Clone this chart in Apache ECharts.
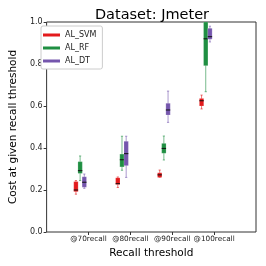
<!DOCTYPE html>
<html><head><meta charset="utf-8">
<script src="https://cdn.jsdelivr.net/npm/echarts@6/dist/echarts.min.js"></script>
<style>html,body{margin:0;padding:0;background:#fff}#c{width:266px;height:266px}</style>
</head><body><div id="c"></div>
<script>
// categories
const categories = ['@70recall', '@80recall', '@90recall', '@100recall'];
const seriesNames = ['AL_SVM', 'AL_RF', 'AL_DT'];
// [min, q1, median, q3, max] per category
const svmValues = [[0.18, 0.192, 0.20, 0.24, 0.245], [0.212, 0.226, 0.230, 0.258, 0.262], [0.26, 0.26, 0.272, 0.282, 0.295], [0.586, 0.60, 0.625, 0.636, 0.652]];
const rfValues = [[0.245, 0.279, 0.292, 0.335, 0.362], [0.294, 0.31, 0.344, 0.371, 0.456], [0.343, 0.375, 0.398, 0.422, 0.457], [0.668, 0.792, 0.92, 1.0, 1.0]];
const dtValues = [[0.208, 0.213, 0.237, 0.263, 0.276], [0.26, 0.316, 0.373, 0.432, 0.456], [0.522, 0.557, 0.581, 0.613, 0.671], [0.905, 0.918, 0.93, 0.97, 0.98]];
const yTicks = [0, 0.2, 0.4, 0.6, 0.8, 1.0];

const colors = ['#e31a1c', '#1f8f42', '#7556ad'];
const whiskerColors = ['rgba(227,26,28,0.6)', 'rgba(31,143,66,0.6)', 'rgba(117,86,173,0.6)'];
const offsets = [-0.3, -0.2, -0.1];
const allValues = [svmValues, rfValues, dtValues];

// axis categories with blank padding slots
const axisCats = [''].concat(categories, ['']);

function makeSeries(k) {
  return {
    name: seriesNames[k],
    type: 'custom',
    color: colors[k],
    data: allValues[k].map((v, i) => [i + 1].concat(v)),
    renderItem: function (params, api) {
      const idx = api.value(0);
      const band = api.size([1, 0])[0];
      const cx = api.coord([idx, 0])[0] + offsets[k] * band;
      const w = band * 0.105;
      const hw = w / 2;
      const y = (n) => api.coord([idx, api.value(n)])[1];
      const yMin = y(1), yQ1 = y(2), yMed = y(3), yQ3 = y(4), yMax = y(5);
      const capW = w * 0.5;
      const lineStyle = { stroke: whiskerColors[k], lineWidth: 1 };
      return {
        type: 'group',
        children: [
          { type: 'line', shape: { x1: cx, y1: yMin, x2: cx, y2: yMax }, style: lineStyle },
          { type: 'line', shape: { x1: cx - capW / 2, y1: yMin, x2: cx + capW / 2, y2: yMin }, style: lineStyle },
          { type: 'line', shape: { x1: cx - capW / 2, y1: yMax, x2: cx + capW / 2, y2: yMax }, style: lineStyle },
          { type: 'rect', shape: { x: cx - hw, y: yQ3, width: w, height: yQ1 - yQ3 }, style: { fill: colors[k], stroke: 'rgba(255,255,255,0.35)', lineWidth: 0.5 } },
          { type: 'line', shape: { x1: cx - hw, y1: yMed, x2: cx + hw, y2: yMed }, style: { stroke: '#111', lineWidth: 1 } }
        ]
      };
    },
    clip: true
  };
}

const chart = echarts.init(document.getElementById('c'), null, { renderer: 'canvas' });
chart.setOption({
  animation: false,
  title: {
    text: 'Dataset: Jmeter', left: 147, top: 3, textAlign: 'center',
    textStyle: { fontFamily: 'DejaVu Sans', fontSize: 14.5, fontWeight: 'normal', color: '#000' }
  },
  legend: {
    data: seriesNames.map((n, k) => ({ name: n, icon: 'rect', itemStyle: { color: colors[k] } })),
    orient: 'vertical', left: 41, top: 26, itemWidth: 17, itemHeight: 3, itemGap: 5,
    padding: [5, 6, 4, 2], borderColor: '#ccc', borderWidth: 1, borderRadius: 2, backgroundColor: '#fff',
    textStyle: { fontFamily: 'DejaVu Sans', fontSize: 8, color: '#222', padding: [0, 0, 0, 0] }
  },
  grid: { left: 38, right: 10, top: 22, bottom: 34, show: true, borderColor: '#333', borderWidth: 1, backgroundColor: 'transparent' },
  xAxis: {
    type: 'category', data: axisCats, boundaryGap: false,
    name: 'Recall threshold', nameLocation: 'middle', nameGap: 16,
    nameTextStyle: { fontFamily: 'DejaVu Sans', fontSize: 10.5, color: '#000' },
    axisLine: { show: false },
    axisTick: { show: true, length: 3, interval: (i) => i > 0 && i < axisCats.length - 1, lineStyle: { color: '#333' } },
    axisLabel: { interval: 0, fontFamily: 'DejaVu Sans', fontSize: 7.3, color: '#222', margin: 4 },
    splitLine: { show: false }
  },
  yAxis: {
    type: 'value', min: 0, max: 1, interval: 0.2,
    name: 'Cost at given recall threshold', nameLocation: 'middle', nameGap: 24,
    nameTextStyle: { fontFamily: 'DejaVu Sans', fontSize: 10.5, color: '#000' },
    axisLine: { show: false },
    axisTick: { show: true, length: 3, lineStyle: { color: '#333' } },
    axisLabel: { fontFamily: 'DejaVu Sans', fontSize: 8, color: '#222', margin: 4, formatter: (v) => yTicks.some(t => Math.abs(t - v) < 1e-9) ? v.toFixed(1) : '' },
    splitLine: { show: false }
  },
  series: [makeSeries(0), makeSeries(1), makeSeries(2)]
});
</script></body></html>
